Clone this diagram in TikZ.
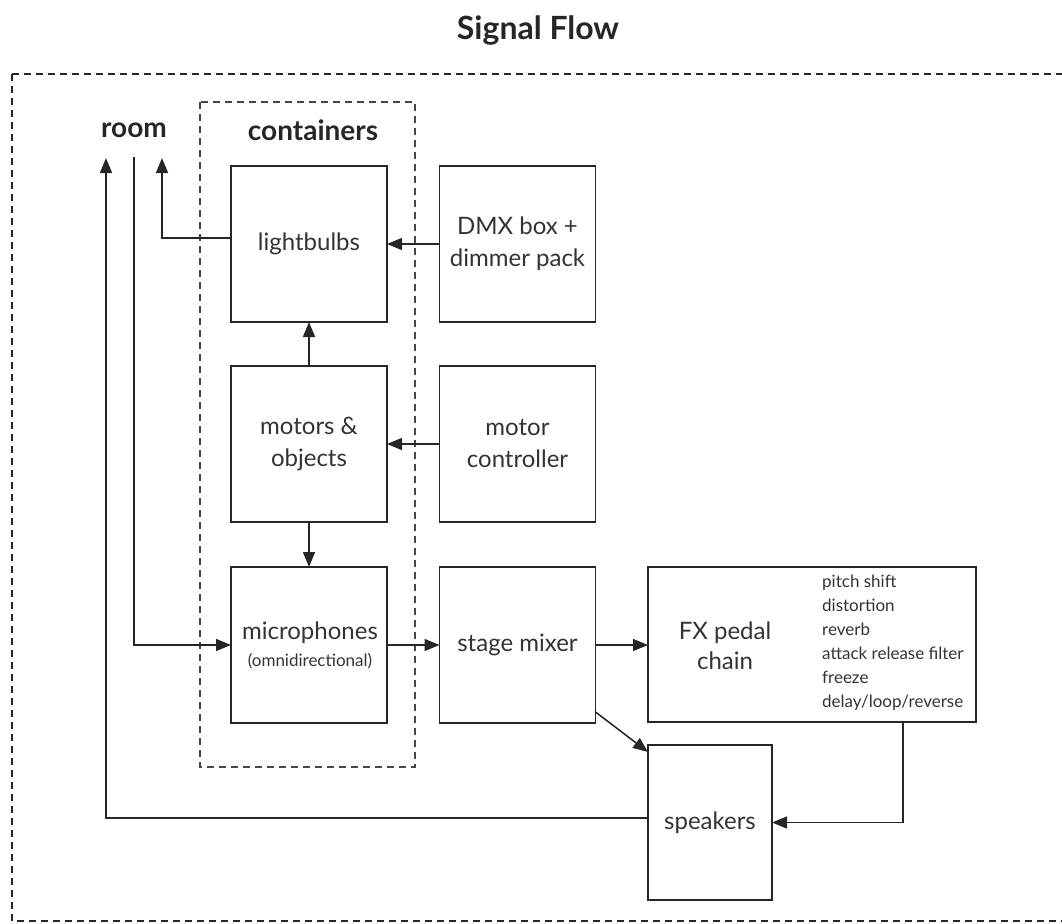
\documentclass[tikz,border=0pt]{standalone}
\usepackage{fontspec}
\setmainfont{Lato}
\usetikzlibrary{arrows.meta,calc}
\definecolor{ink}{HTML}{262626}
\definecolor{txt}{HTML}{333333}
\tikzset{
  box/.style={draw=ink, line width=1.6pt, minimum width=156pt, minimum height=156pt, inner sep=0pt, outer sep=0pt, text=txt, font=\fontsize{24}{32}\selectfont, align=center},
  arr/.style={draw=ink, line width=1.5pt, -{Triangle[length=15pt,width=12pt]}},
  heading/.style={font=\bfseries\fontsize{28}{32}\selectfont, text=ink, inner sep=0pt},
  fxlist/.style={font=\fontsize{17}{24}\selectfont, text=txt, align=left, inner sep=0pt, anchor=north west}
}
\begin{document}
\begin{tikzpicture}[x=1pt,y=-1pt]
\useasboundingbox (0,0) rectangle (1062,923);
% frames
\draw[ink, line width=1.5pt, dash pattern=on 7pt off 5pt] (12,74) -- (1080,74) (12,74) -- (12,921) -- (1080,921);
\draw[ink!85, line width=1.3pt, dash pattern=on 7pt off 5pt] (200,102) rectangle (415,767);
% headings
\node[heading, font=\bfseries\fontsize{32}{36}\selectfont] (title) at (538,31) {Signal Flow};
\node[heading] (room) at (134,130) {room};
\node[heading] (cont) at (313,130) {containers};
% boxes
\node[box] (lb) at (309,244) {lightbulbs};
\node[box] (dmx) at (517.5,244) {DMX box +\\dimmer pack};
\node[box] (mot) at (309,444) {motors \&\\objects};
\node[box] (mc) at (517.5,444) {motor\\controller};
\node[box] (mic) at (309,645) {};
\node[text=txt, font=\fontsize{24}{28}\selectfont, inner sep=0pt] (micl) at (310,633) {microphones};
\node[text=txt, font=\fontsize{17}{20}\selectfont, inner sep=0pt] (micn) at (310,661) {(omnidirectional)};
\node[box] (mix) at (517.5,645) {stage mixer};
\node[box, minimum width=328pt, minimum height=155pt] (fx) at (812,644.5) {};
\node[text=txt, font=\fontsize{24}{30}\selectfont, align=center, inner sep=0pt] (fxl) at (725,646) {FX pedal\\chain};
\node[fxlist] (fxt) at (822,575) {pitch shift\\distortion\\reverb\\attack release filter\\freeze\\delay/loop/reverse};
\node[box, minimum width=124pt, minimum height=155pt] (spk) at (710,822.5) {speakers};
% room ends
\coordinate (r1) at (106,158);
\coordinate (r2) at (134,157);
\coordinate (r3) at (162,158);
% connectors
\draw[arr] (dmx.west) -- (lb.east);
\draw[arr] (mc.west) -- (mot.east);
\draw[arr] (mot.north) -- (lb.south);
\draw[arr] (mot.south) -- (mic.north);
\draw[arr] (mic.east) -- (mix.west);
\draw[arr] (mix.east) -- (mix.east -| fx.west);
\draw[arr] ($(mix.south east)+(0,-11)$) -- ($(spk.north west)+(0,7)$);
\draw[arr] ($(fx.south east)+(-73,0)$) |- (spk.east);
\draw[arr] ($(spk.west)+(0,-4.5)$) -| (r1);
\draw[arr] (r2) |- (mic.west);
\draw[arr] ($(lb.west)+(0,-6)$) -| (r3);
\end{tikzpicture}
\end{document}
